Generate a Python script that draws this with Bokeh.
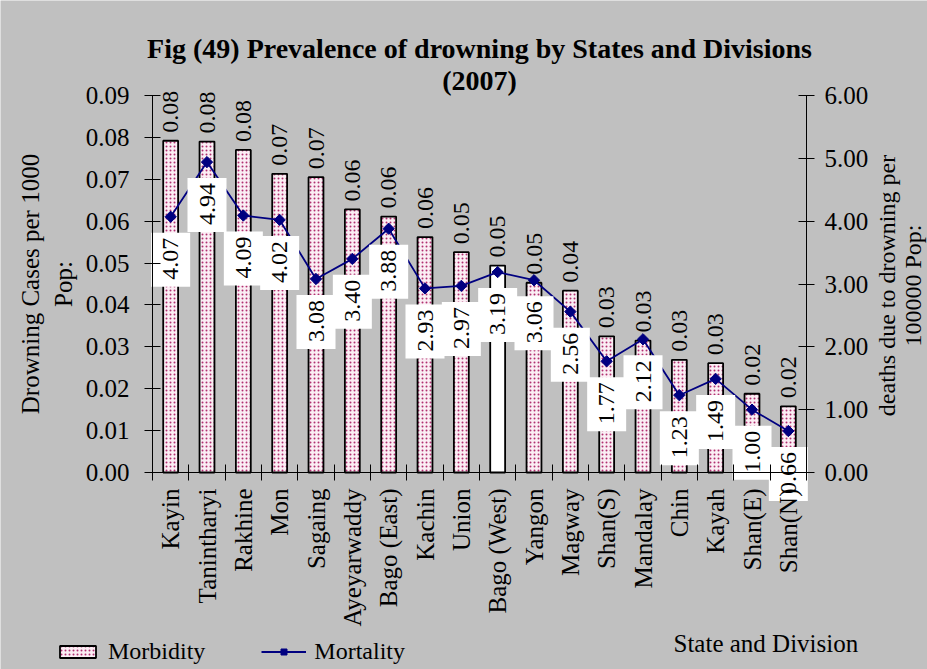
import math
from bokeh.plotting import figure
from bokeh.models import (ColumnDataSource, Range1d, LinearAxis,
                          FixedTicker, NumeralTickFormatter, Legend, LegendItem, Label, LinearScale)
from bokeh.embed import file_html
from bokeh.resources import INLINE
from bokeh.core.properties import value

# ---------------- data ----------------
categories = ["Kayin", "Tanintharyi", "Rakhine", "Mon", "Sagaing", "Ayeyarwaddy",
              "Bago (East)", "Kachin", "Union", "Bago (West)", "Yangon", "Magway",
              "Shan(S)", "Mandalay", "Chin", "Kayah", "Shan(E)", "Shan(N)"]
morbidity = [0.0792, 0.0790, 0.0770, 0.0713, 0.0705, 0.0628, 0.0611, 0.0562, 0.0526,
             0.0494, 0.0453, 0.0434, 0.0325, 0.0315, 0.0269, 0.0261, 0.0188, 0.0158]
mortality = [4.07, 4.94, 4.09, 4.02, 3.08, 3.40, 3.88, 2.93, 2.97,
             3.19, 3.06, 2.56, 1.77, 2.12, 1.23, 1.49, 1.00, 0.66]
highlight = "Bago (West)"
left_ticks = [0.00, 0.01, 0.02, 0.03, 0.04, 0.05, 0.06, 0.07, 0.08, 0.09]
right_ticks = [0, 1, 2, 3, 4, 5, 6]
left_max, right_max = 0.09, 6

title_line1 = "Fig (49) Prevalence of drowning by States and Divisions"
title_line2 = "(2007)"
left_label = "Drowning Cases per 1000\nPop:"
right_label = "deaths due to drowning per\n100000 Pop:"
x_label = "State and Division"

FONT = "Liberation Serif"
BG = "#c0c0c0"
NAVY = "#000080"
INK = "black"

# ---------------- layout (pixels) ----------------
W, H = 927, 669
AX_L, AX_R = 152, 806         # x pixel of first / last category boundary
AX_T, AX_B = 95, 472          # y pixel of axis max / zero

n = len(categories)
pos = [i + 0.5 for i in range(n)]          # category centres
bounds = list(range(n + 1))                # category boundaries (tick marks)

ux = n / (AX_R - AX_L)                     # x units per pixel
x_rng = Range1d(-AX_L * ux, n + (W - AX_R) * ux)
ul = left_max / (AX_B - AX_T)
ur = right_max / (AX_B - AX_T)
yl_rng = Range1d(-(H - AX_B) * ul, left_max + AX_T * ul)
yr_rng = Range1d(-(H - AX_B) * ur, right_max + AX_T * ur)

# ---------------- figure ----------------
p = figure(width=W, height=H, x_range=x_rng, y_range=yl_rng, title=None,
           output_backend="svg", toolbar_location=None,
           x_axis_location=None, y_axis_location=None,
           min_border=0,
           background_fill_color=BG, border_fill_color=BG,
           outline_line_color=None)
p.grid.visible = False
p.extra_y_ranges = {"right": yr_rng}
p.extra_y_scales = {"right": LinearScale()}

# title (two centred lines)
cx = (AX_L + AX_R) / 2
p.add_layout(Label(x=cx, y=H - 48, x_units="screen", y_units="screen", text=title_line1,
                   text_font=FONT, text_font_size="28px", text_font_style="bold",
                   text_color=INK, text_align="center", text_baseline="middle"))
p.add_layout(Label(x=cx, y=H - 80, x_units="screen", y_units="screen", text=title_line2,
                   text_font=FONT, text_font_size="28px", text_font_style="bold",
                   text_color=INK, text_align="center", text_baseline="middle"))

# left axis
ya = LinearAxis(fixed_location=0, bounds=(0, left_max),
                ticker=FixedTicker(ticks=left_ticks),
                formatter=NumeralTickFormatter(format="0.00"),
                major_tick_in=8, major_tick_out=8, minor_tick_line_color=None,
                axis_line_color=INK, major_tick_line_color=INK,
                major_label_text_font=FONT, major_label_text_font_size="25px",
                major_label_text_color=INK, major_label_standoff=15,
                axis_label=left_label, axis_label_text_font=FONT,
                axis_label_text_font_size="25px", axis_label_text_font_style="normal",
                axis_label_text_color=INK, axis_label_standoff=6)
p.add_layout(ya, "left")

# right axis
ra = LinearAxis(y_range_name="right", fixed_location=n, bounds=(0, right_max),
                ticker=FixedTicker(ticks=right_ticks),
                formatter=NumeralTickFormatter(format="0.00"),
                major_tick_in=8, major_tick_out=8, minor_tick_line_color=None,
                axis_line_color=INK, major_tick_line_color=INK,
                major_label_text_font=FONT, major_label_text_font_size="25px",
                major_label_text_color=INK, major_label_standoff=10)
p.add_layout(ra, "right")
# right axis title, reading bottom-to-top
p.add_layout(Label(x=899, y=H - 285, x_units="screen", y_units="screen", text=right_label,
                   angle=math.pi / 2, text_font=FONT, text_font_size="24px",
                   text_line_height=1.0,
                   text_color=INK, text_align="center", text_baseline="middle"))

# x axis: tick marks between categories, labels at centres
xa = LinearAxis(fixed_location=0, bounds=(0, n),
                ticker=FixedTicker(ticks=pos, minor_ticks=bounds),
                major_label_overrides={x: c for x, c in zip(pos, categories)},
                major_tick_line_color=None, major_tick_in=0, major_tick_out=0,
                minor_tick_in=8, minor_tick_out=8, minor_tick_line_color=INK,
                axis_line_color=INK,
                major_label_orientation=math.pi / 2,
                major_label_text_font=FONT, major_label_text_font_size="25px",
                major_label_text_color=INK, major_label_standoff=8)
p.add_layout(xa, "below")

# ---------------- bars ----------------
main = ColumnDataSource(dict(
    x=[x for x, c in zip(pos, categories) if c != highlight],
    top=[m for c, m in zip(categories, morbidity) if c != highlight]))
hil = ColumnDataSource(dict(
    x=[x for x, c in zip(pos, categories) if c == highlight],
    top=[m for c, m in zip(categories, morbidity) if c == highlight]))

bars = p.vbar(x="x", top="top", width=0.41, source=main,
              fill_color="#fbeef4", hatch_pattern="dot", hatch_color="#b03070",
              hatch_scale=4, hatch_weight=1.5,
              line_color="black", line_width=1.8)
p.vbar(x="x", top="top", width=0.41, source=hil,
       fill_color="white", line_color="black", line_width=1.8)

# bar value labels
p.text(x=pos, y=morbidity, text=["%.2f" % m for m in morbidity],
       angle=math.pi / 2, text_align="left", text_baseline="middle",
       y_offset=-8, text_font=value(FONT), text_font_size="24px", text_color=INK)

# ---------------- mortality line ----------------
line = p.line(x=pos, y=mortality, y_range_name="right",
              line_color=NAVY, line_width=1.8)
pts = p.scatter(x=pos, y=mortality, y_range_name="right",
                marker="square", angle=math.pi / 4, size=8,
                fill_color=NAVY, line_color=NAVY)

p.text(x=pos, y=mortality, y_range_name="right",
       text=["%.2f" % m for m in mortality],
       angle=math.pi / 2, text_align="right", text_baseline="middle",
       y_offset=16, text_font=value(FONT), text_font_size="24px", text_color=INK,
       background_fill_color="white", padding=(7, 5, 12, 12))

# ---------------- legend & x label ----------------
legend = Legend(items=[LegendItem(label="Morbidity", renderers=[bars]),
                       LegendItem(label="Mortality", renderers=[line, pts])],
                orientation="horizontal", location=(55, 4),
                glyph_width=45, glyph_height=15, label_standoff=8, spacing=56,
                padding=0, margin=0, border_line_color=None,
                background_fill_alpha=0,
                label_text_font=FONT, label_text_font_size="24px",
                label_text_color=INK)
p.add_layout(legend)

p.add_layout(Label(x=673, y=H - 643, x_units="screen", y_units="screen",
                   text=x_label, text_font=FONT, text_font_size="25px",
                   text_color=INK, text_baseline="middle", text_align="left"))

open("out.html", "w").write(file_html(p, INLINE))
